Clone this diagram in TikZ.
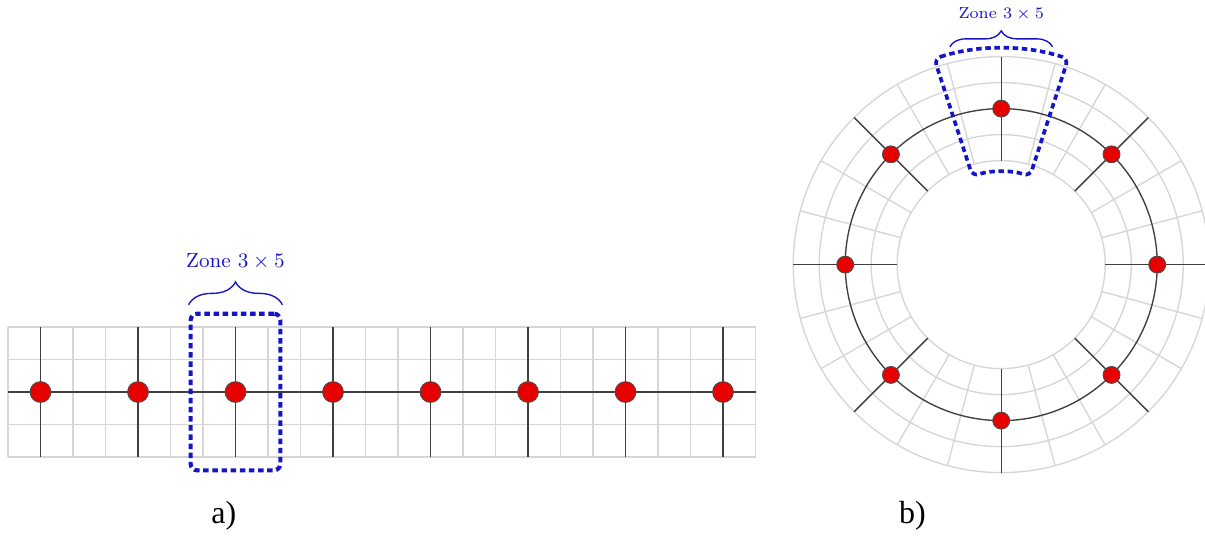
\documentclass[tikz,border=0pt]{standalone}
\usepackage{fontspec}
\newfontfamily\captionfont{Liberation Serif}
\usetikzlibrary{decorations.pathreplacing}
\definecolor{zoneblue}{RGB}{20,20,200}
\definecolor{dotred}{RGB}{230,0,0}

\begin{document}
\begin{tikzpicture}[
    gridline/.style={draw=black!16, line width=0.6pt},
    mainline/.style={draw=black!75, line width=0.6pt},
    sitedot/.style={circle, draw=black!70, fill=dotred, line width=0.4pt, inner sep=0pt, minimum size=3.2mm},
    ringdot/.style={sitedot, minimum size=2.6mm},
    zonebox/.style={draw=zoneblue, line width=1.8pt, dash pattern=on 2.4pt off 1.6pt, rounded corners=1mm},
    zonebrace/.style={draw=zoneblue, line width=0.6pt, decorate, decoration={brace, amplitude=#1}},
    zonelabel/.style={text=zoneblue, inner sep=2pt},
    caption/.style={font=\captionfont\fontsize{14}{16}\selectfont, anchor=base}
]
\useasboundingbox (-0.123,-1.231) rectangle (18.415,7.031);

% a) straight grid, 23 x 4 cells
\draw[gridline] (0,0) grid[step=0.5] (11.5,2);
\draw[mainline] (0,1) -- (11.5,1);
\foreach \i in {1,...,8} {
  \draw[mainline] ({1.5*\i-1},0) -- ({1.5*\i-1},2);
  \node[sitedot] (dotA\i) at ({1.5*\i-1},1) {};
}

% zone around the third site
\node[zonebox, minimum width=1.38cm, minimum height=2.41cm, inner sep=0pt] (zoneA) at (dotA3) {};
\draw[zonebrace=10pt] ([yshift=3pt]zoneA.north west) -- ([yshift=3pt]zoneA.north east)
  node[midway, above=13pt, zonelabel, font=\small] (labelA) {Zone $3\times5$};

\node[caption] (capA) at (3.32,-1.015) {a)};

% b) ring grid, 24 sectors x 4 rings
\coordinate (ring) at (15.28,2.96);
\begin{scope}[shift={(ring)}]
  \foreach \r in {1.6,2.0,2.8,3.2} \draw[gridline] (0,0) circle[radius=\r];
  \foreach \a in {0,15,...,345} \draw[gridline] (\a:1.6) -- (\a:3.2);
  \draw[mainline] (0,0) circle[radius=2.4];
  \foreach \i in {0,...,7} {
    \draw[mainline] ({45*\i}:1.6) -- ({45*\i}:3.2);
    \node[ringdot] (dotB\i) at ({45*\i}:2.4) {};
  }

  % zone around the top site
  \draw[zonebox, line width=1.6pt] (108:3.33) arc[start angle=108, end angle=72, radius=3.33]
    -- (72:1.43) arc[start angle=72, end angle=108, radius=1.43] -- cycle;
  \draw[zonebrace=7pt] (-0.79,3.35) -- (0.79,3.35)
    node[midway, above=9.5pt, zonelabel, font=\scriptsize] (labelB) {Zone $3\times5$};
\end{scope}

\node[caption] (capB) at (13.915,-1.015) {b)};

\end{tikzpicture}
\end{document}
